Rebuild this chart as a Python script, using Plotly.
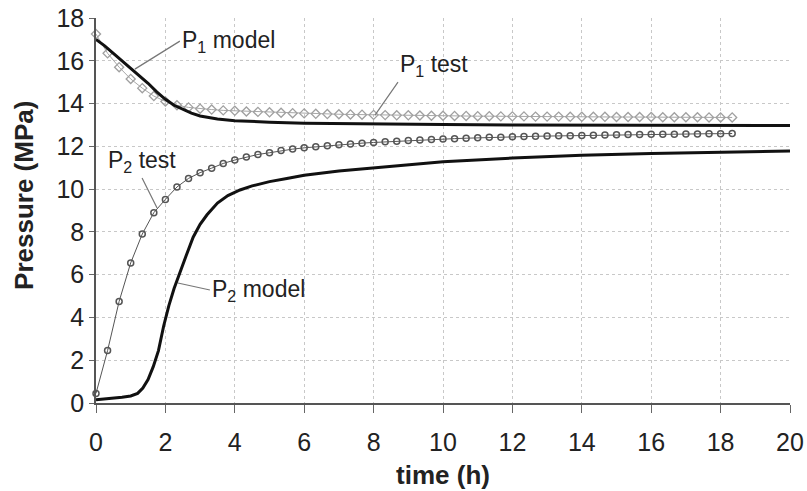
import plotly.graph_objects as go

# ---- data ----
test_time = [k / 3 for k in range(56)]  # test samples every 20 min

p1_test = [17.25, 16.35, 15.70, 15.15, 14.72, 14.35, 14.10, 13.92, 13.82, 13.76,
           13.72, 13.68, 13.66, 13.63, 13.61, 13.59, 13.57, 13.55, 13.54, 13.52,
           13.51, 13.50, 13.49, 13.48, 13.47, 13.46, 13.45, 13.45, 13.44, 13.43,
           13.43, 13.42, 13.42, 13.41, 13.41, 13.40, 13.40, 13.40, 13.39, 13.39,
           13.39, 13.38, 13.38, 13.38, 13.38, 13.37, 13.37, 13.37, 13.37, 13.36,
           13.36, 13.36, 13.36, 13.35, 13.35, 13.35]

p2_test = [0.45, 2.45, 4.75, 6.55, 7.90, 8.90, 9.52, 10.10, 10.50, 10.77,
           10.98, 11.20, 11.36, 11.50, 11.62, 11.70, 11.80, 11.87, 11.93, 11.98,
           12.03, 12.07, 12.11, 12.15, 12.18, 12.21, 12.24, 12.27, 12.30, 12.32,
           12.34, 12.36, 12.38, 12.40, 12.42, 12.43, 12.45, 12.46, 12.47, 12.48,
           12.49, 12.50, 12.51, 12.52, 12.53, 12.54, 12.55, 12.55, 12.56, 12.57,
           12.57, 12.58, 12.58, 12.59, 12.59, 12.60]

p1_model_time = [0, 0.25, 0.5, 0.75, 1.0, 1.25, 1.5, 1.75, 2.0, 2.25, 2.5, 2.75,
                 3.0, 3.5, 4, 4.5, 5, 6, 7, 8, 10, 12, 14, 16, 18, 20]
p1_model = [17.0, 16.7, 16.35, 16.0, 15.65, 15.3, 14.95, 14.55, 14.2, 13.92, 13.72,
            13.55, 13.42, 13.28, 13.2, 13.16, 13.13, 13.08, 13.06, 13.04, 13.02,
            13.0, 12.99, 12.98, 12.97, 12.97]

p2_model_time = [0, 0.25, 0.5, 0.75, 1.0, 1.2, 1.35, 1.5, 1.65, 1.8, 1.95, 2.1,
                 2.25, 2.4, 2.6, 2.8, 3.0, 3.2, 3.5, 3.8, 4.15, 4.5, 5, 5.5, 6,
                 7, 8, 9, 10, 12, 14, 16, 18, 20]
p2_model = [0.15, 0.18, 0.22, 0.27, 0.33, 0.45, 0.7, 1.1, 1.7, 2.45, 3.6, 4.55,
            5.35, 6.05, 6.9, 7.75, 8.35, 8.8, 9.35, 9.7, 9.96, 10.15, 10.35, 10.5,
            10.65, 10.85, 11.0, 11.15, 11.28, 11.45, 11.58, 11.66, 11.72, 11.78]

x_ticks = list(range(0, 21, 2))
y_ticks = list(range(0, 19, 2))

# label: (text, point t, point P, ax, ay, xanchor, yanchor)
labels = [
    ("P<sub>1</sub> model", 1.12, 15.61, 45, -28, "left", "middle"),
    ("P<sub>1</sub> test", 8.04, 13.46, 23, -33, "left", "bottom"),
    ("P<sub>2</sub> test", 1.76, 9.12, -15, -30, "center", "bottom"),
    ("P<sub>2</sub> model", 2.36, 5.61, 32, 7, "left", "middle"),
]

FONT = "Arial, Liberation Sans, sans-serif"

fig = go.Figure()
fig.add_trace(go.Scatter(
    x=test_time, y=p1_test, mode="lines+markers",
    line=dict(color="#a8a8a8", width=1),
    marker=dict(symbol="diamond-open", size=7, color="#a0a0a0", line=dict(width=1.3)),
    cliponaxis=False, showlegend=False))
fig.add_trace(go.Scatter(
    x=test_time, y=p2_test, mode="lines+markers",
    line=dict(color="#555555", width=1),
    marker=dict(symbol="circle-open", size=6, color="#555555", line=dict(width=1.5)),
    cliponaxis=False, showlegend=False))
fig.add_trace(go.Scatter(
    x=p1_model_time, y=p1_model, mode="lines",
    line=dict(color="#111111", width=3), showlegend=False))
fig.add_trace(go.Scatter(
    x=p2_model_time, y=p2_model, mode="lines",
    line=dict(color="#111111", width=3), showlegend=False))

for text, t, p, ax, ay, xa, ya in labels:
    fig.add_annotation(x=t, y=p, text=text, showarrow=True, arrowhead=0,
                       arrowwidth=1.2, arrowcolor="#777777", ax=ax, ay=ay,
                       xanchor=xa, yanchor=ya,
                       font=dict(family=FONT, size=23, color="#222222"))

fig.add_annotation(xref="paper", yref="paper", x=-0.104, y=0.54,
                   text="<b>Pressure (MPa)</b>", textangle=-90, showarrow=False,
                   xanchor="center", yanchor="middle",
                   font=dict(family=FONT, size=26, color="#222222"))

fig.update_layout(
    width=807, height=491,
    margin=dict(l=96, r=17, t=18, b=88, autoexpand=False),
    paper_bgcolor="white", plot_bgcolor="white",
    font=dict(family=FONT, size=25, color="#222222"),
    xaxis=dict(range=[0, 20], tickvals=x_ticks, ticks="outside", ticklen=8,
               tickcolor="#666666", showline=True, linecolor="#555555", linewidth=1.5,
               showgrid=True, gridcolor="#c8c8c8", griddash="dot", gridwidth=1,
               zeroline=False, automargin=False, ticklabelstandoff=8,
               title=dict(text="<b>time (h)</b>", standoff=11,
                          font=dict(family=FONT, size=26, color="#222222"))),
    yaxis=dict(range=[0, 18], tickvals=y_ticks, ticks="outside", ticklen=5,
               tickcolor="#666666", showline=True, linecolor="#555555", linewidth=1.5,
               showgrid=True, gridcolor="#c8c8c8", griddash="dot", gridwidth=1,
               zeroline=False, automargin=False),
)

fig.write_html("out.html")
